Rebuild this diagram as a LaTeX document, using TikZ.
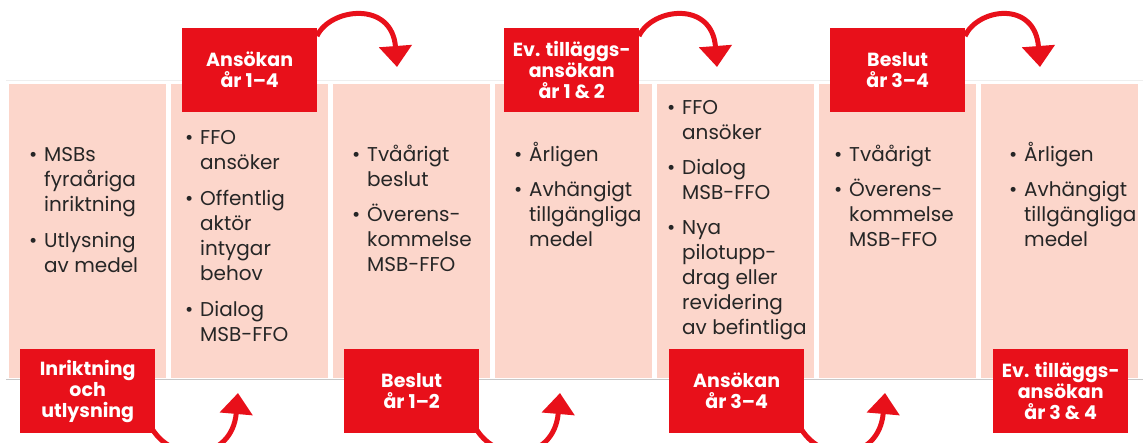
\documentclass[tikz,border=0pt]{standalone}
\usepackage{fontspec}
\setmainfont{Poppins}
\usetikzlibrary{arrows.meta}
\definecolor{msbred}{HTML}{E8101A}
\definecolor{pinkcol}{HTML}{FCD6CB}
\definecolor{txt}{HTML}{262626}
\definecolor{rule1}{HTML}{EEEEEE}
\definecolor{rule2}{HTML}{C8C8C8}
\begin{document}
\begin{tikzpicture}[x=1pt,y=-1pt,
  col/.style={fill=pinkcol, draw=none, minimum width=157pt, minimum height=294pt, inner sep=0pt, anchor=north west},
  redbox/.style={fill=msbred, text=white, minimum width=135pt, minimum height=84pt, inner sep=0pt, align=center, font=\bfseries\fontsize{19}{21}\selectfont, anchor=north west},
  bul/.style={anchor=base west, inner sep=0pt, text=txt, font=\fontsize{20}{25}\selectfont},
  flow/.style={draw=msbred, line width=5pt, -{Triangle[width=32pt,length=21pt]}}]
\useasboundingbox (0,0) rectangle (1143,443);
\fill[white] (0,0) rectangle (1143,443);
% faint guide lines
\draw[rule1, line width=1pt] (6,81) -- (1143,81);
\draw[rule2, line width=1pt] (6,380) -- (1143,380);
% columns
\node[col] (c1) at (9,84) {};
\node[col] (c2) at (171,84) {};
\node[col] (c3) at (333,84) {};
\node[col] (c4) at (495,84) {};
\node[col] (c5) at (657,84) {};
\node[col] (c6) at (819,84) {};
\node[col] (c7) at (981,84) {};
% arrow tips
\coordinate (a1) at (397,67);
\coordinate (a2) at (717,67);
\coordinate (a3) at (1040,67);
\coordinate (d1) at (238,393);
\coordinate (d2) at (560,393);
\coordinate (d3) at (885,393);
% boxes (positions)
\coordinate (pb1) at (20,349);
\coordinate (pb2) at (182,28);
\coordinate (pb3) at (344,349);
\coordinate (pb4) at (504,28);
\coordinate (pb5) at (669,349);
\coordinate (pb6) at (830,28);
\coordinate (pb7) at (993,349);
% arcs (drawn first, boxes cover their start)
\path (pb2) ++(135,8) coordinate (s2);
\path (pb4) ++(135,8) coordinate (s4);
\path (pb6) ++(135,8) coordinate (s6);
\path (pb1) ++(130,76) coordinate (s1);
\path (pb3) ++(130,76) coordinate (s3);
\path (pb5) ++(130,76) coordinate (s5);
\draw[flow] (s2) .. controls +(13,-28) and +(-5,-67) .. (a1);
\draw[flow] (s4) .. controls +(13,-28) and +(-5,-67) .. (a2);
\draw[flow] (s6) .. controls +(13,-28) and +(-5,-67) .. (a3);
\draw[flow] (s1) .. controls +(20,40) and +(-6,69) .. (d1);
\draw[flow] (s3) .. controls +(20,40) and +(-6,69) .. (d2);
\draw[flow] (s5) .. controls +(20,40) and +(-6,69) .. (d3);
% red boxes
\node[redbox] (b1) at (pb1) {Inriktning\\och\\utlysning};
\node[redbox] (b2) at (pb2) {Ansökan\\år 1–4};
\node[redbox] (b3) at (pb3) {Beslut\\år 1–2};
\node[redbox] (b4) at (pb4) {Ev. tilläggs-\\ansökan\\år 1 \& 2};
\node[redbox] (b5) at (pb5) {Ansökan\\år 3–4};
\node[redbox] (b6) at (pb6) {Beslut\\år 3–4};
\node[redbox] (b7) at (pb7) {Ev. tilläggs-\\ansökan\\år 3 \& 4};
% bullet texts
\node[bul] (t1) at (29,162) {\begin{tabular}[t]{@{}p{15pt}@{}l@{}}\textbullet & MSBs\\ & fyraåriga\\ & inriktning\\[11pt] \textbullet & Utlysning\\ & av medel\end{tabular}};
\node[bul] (t2) at (185,145) {\begin{tabular}[t]{@{}p{15pt}@{}l@{}}\textbullet & FFO\\ & ansöker\\[11pt] \textbullet & Offentlig\\ & aktör\\ & intygar\\ & behov\\[11pt] \textbullet & Dialog\\ & MSB-FFO\end{tabular}};
\node[bul] (t3) at (352,162) {\begin{tabular}[t]{@{}p{15pt}@{}l@{}}\textbullet & Tvåårigt\\ & beslut\\[10pt] \textbullet & Överens-\\ & kommelse\\ & MSB-FFO\end{tabular}};
\node[bul] (t4) at (514,162) {\begin{tabular}[t]{@{}p{15pt}@{}l@{}}\textbullet & Årligen\\[10pt] \textbullet & Avhängigt\\ & tillgängliga\\ & medel\end{tabular}};
\node[bul] (t5) at (667,115) {\begin{tabular}[t]{@{}p{15pt}@{}l@{}}\textbullet & FFO\\ & ansöker\\[10pt] \textbullet & Dialog\\ & MSB-FFO\\[10pt] \textbullet & Nya\\ & pilotupp-\\ & drag eller\\ & revidering\\ & av befintliga\end{tabular}};
\node[bul] (t6) at (834,162) {\begin{tabular}[t]{@{}p{15pt}@{}l@{}}\textbullet & Tvåårigt\\[10pt] \textbullet & Överens-\\ & kommelse\\ & MSB-FFO\end{tabular}};
\node[bul] (t7) at (1009,162) {\begin{tabular}[t]{@{}p{15pt}@{}l@{}}\textbullet & Årligen\\[10pt] \textbullet & Avhängigt\\ & tillgängliga\\ & medel\end{tabular}};
\end{tikzpicture}
\end{document}
